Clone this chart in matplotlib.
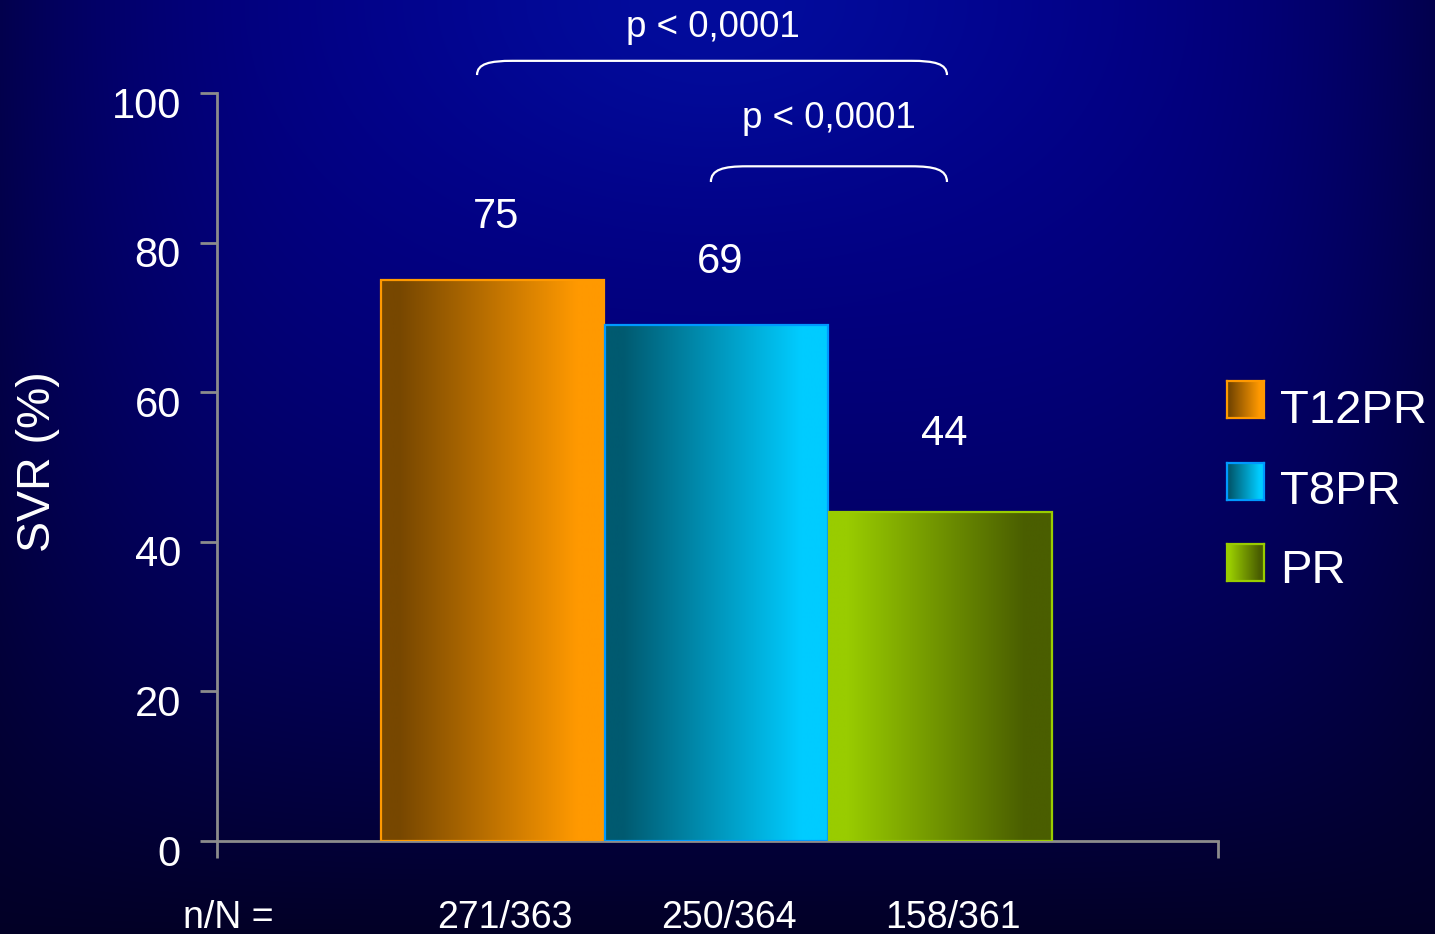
import numpy as np
import matplotlib
matplotlib.use("Agg")
import matplotlib.pyplot as plt
from matplotlib.colors import LinearSegmentedColormap
from matplotlib.path import Path
from matplotlib.patches import PathPatch
from matplotlib.transforms import ScaledTranslation

plt.rcParams['font.family'] = ['Liberation Sans', 'DejaVu Sans']

# ---- data ----
groups = ["T12PR", "T8PR", "PR"]
svr = [75, 69, 44]
n_over_N = ["271/363", "250/364", "158/361"]
yticks = [0, 20, 40, 60, 80, 100]
p_labels = ["p < 0,0001", "p < 0,0001"]

# ---- styles ----
grad_colors = [
    ["#774700", "#774700", "#ff9900", "#ff9900"],
    ["#005a70", "#005a70", "#00ccff", "#00ccff"],
    ["#99cc00", "#99cc00", "#4a5e00", "#4a5e00"],
]
grad_stops = [0.0, 0.08, 0.88, 1.0]
edge_colors = ["#ff9900", "#0099ff", "#99cc00"]
label_offsets = [7.0, 7.0, 9.0]

W, H = 1435, 934
fig = plt.figure(figsize=(W / 100, H / 100), dpi=100)

# background gradient (bright blue at top centre, dark navy at edges / bottom)
bg = fig.add_axes([0, 0, 1, 1], zorder=-10)
yy, xx = np.mgrid[0:H, 0:W].astype(float)
dx = np.abs(xx - 717) / 717.0
dy = yy / 934.0
h = 1 - 0.6 * dx ** 4
v = 1 - dy ** 2
glow = np.exp(-((xx - 717) ** 2 / 300.0 ** 2 + yy ** 2 / 200.0 ** 2))
B = 38 + 98 * h * v + 20 * glow
G = 12 * glow
R = np.full_like(B, 2)
img = np.clip(np.dstack([R, G, B]) / 255.0, 0, 1)
bg.imshow(img, extent=[0, 1, 0, 1], aspect='auto', origin='upper')
bg.axis('off')

# main axes
ax = fig.add_axes([217 / W, 93 / H, 1001 / W, 748 / H])
ax.set_facecolor('none')

x = np.arange(len(groups))
width = 0.995
grad = np.linspace(0, 1, 256).reshape(1, -1)
cmaps = [LinearSegmentedColormap.from_list(g, list(zip(grad_stops, c)))
         for g, c in zip(groups, grad_colors)]

for i, (xi, v_) in enumerate(zip(x, svr)):
    ax.imshow(grad, cmap=cmaps[i], extent=[xi - width / 2, xi + width / 2, 0, v_],
              aspect='auto', zorder=2, interpolation='bilinear')
    ax.bar(xi, v_, width=width, fill=False, edgecolor=edge_colors[i], linewidth=1.6, zorder=3)
    ax.text(xi + 0.015, v_ + label_offsets[i], str(v_), ha='center', va='baseline',
            color='white', fontsize=30)

ax.set_xlim(-1.23, 3.239)
ax.set_ylim(0, 100)

for s in ['top', 'right']:
    ax.spines[s].set_visible(False)
for s in ['left', 'bottom']:
    ax.spines[s].set_color('#8c8c8c')
    ax.spines[s].set_linewidth(2)

ax.set_yticks(yticks)
ax.set_yticklabels([str(t) for t in yticks])
ax.tick_params(axis='y', direction='out', length=12, width=2, color='#8c8c8c',
               labelcolor='white', labelsize=30, pad=14)
for lbl in ax.get_yticklabels():
    lbl.set_transform(lbl.get_transform() + ScaledTranslation(0, -0.09, fig.dpi_scale_trans))
ax.set_xticks([-1.23, 3.239])
ax.set_xticklabels([])
ax.tick_params(axis='x', direction='out', length=12, width=2, color='#8c8c8c')

# n/N labels
for xi, lab in zip(x, n_over_N):
    ax.text(xi + 0.055, -11.6, lab, ha='center', va='baseline', color='white',
            fontsize=27, clip_on=False)
ax.text((228 - 492.5) / 224, -11.6, "n/N =", ha='center', va='baseline', color='white',
        fontsize=27, clip_on=False)

fig.text(38 / W, 1 - 462 / H, "SVR (%)", rotation=90, ha='center', va='center',
         color='white', fontsize=33.5)

# significance braces
def brace(x0, x1, yb, yt, r=0.16):
    hh = yt - yb
    verts = [(x0, yb), (x0, yb + 0.8 * hh), (x0 + 0.35 * r, yt), (x0 + r, yt),
             (x1 - r, yt),
             (x1 - 0.35 * r, yt), (x1, yb + 0.8 * hh), (x1, yb)]
    codes = [Path.MOVETO, Path.CURVE4, Path.CURVE4, Path.CURVE4, Path.LINETO,
             Path.CURVE4, Path.CURVE4, Path.CURVE4]
    ax.add_patch(PathPatch(Path(verts, codes), fill=False, edgecolor='white',
                           linewidth=1.6, clip_on=False, zorder=4))

brace(-0.069, 2.029, 102.4, 104.3)
brace(0.975, 2.029, 88.1, 90.2)
ax.text((713 - 492.5) / 224, (841 - 37) / 7.48, p_labels[0], ha='center', va='baseline',
        color='white', fontsize=26.5, clip_on=False)
ax.text((829 - 492.5) / 224, (841 - 128) / 7.48, p_labels[1], ha='center', va='baseline',
        color='white', fontsize=26.5, clip_on=False)

# legend
sw_tops = [381, 463, 544]
txt_base = [423, 504, 583]
for i, g in enumerate(groups):
    sax = fig.add_axes([1227 / W, 1 - (sw_tops[i] + 37) / H, 37 / W, 37 / H])
    sax.imshow(grad, cmap=cmaps[i], aspect='auto', extent=[0, 1, 0, 1])
    sax.set_xticks([]); sax.set_yticks([])
    for sp in sax.spines.values():
        sp.set_color(edge_colors[i]); sp.set_linewidth(1.6)
    fig.text(1280 / W, 1 - txt_base[i] / H, g, ha='left', va='baseline', color='white',
             fontsize=34)

fig.savefig("out.png", dpi=100)
